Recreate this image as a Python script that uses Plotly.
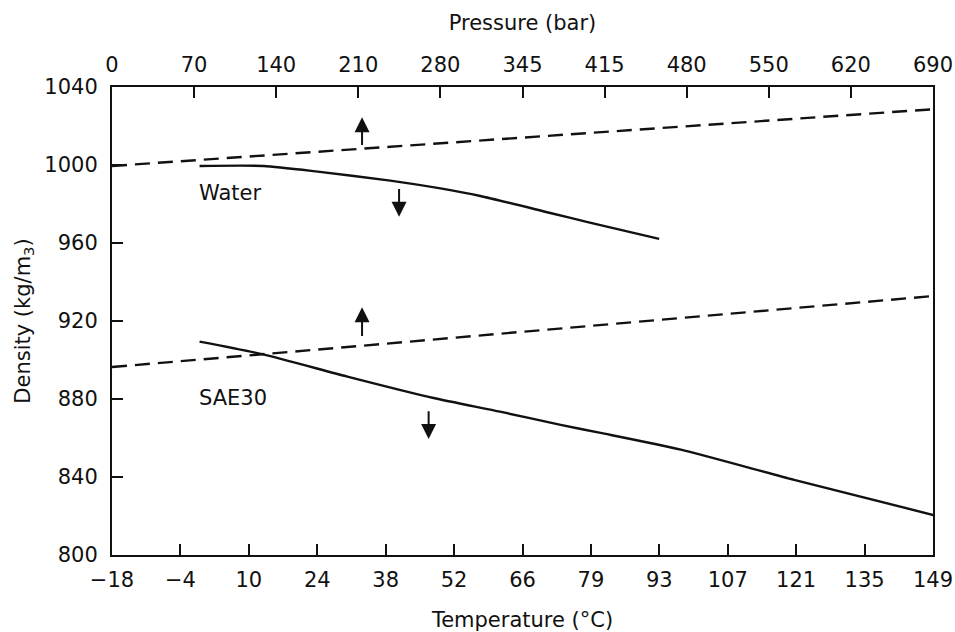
import plotly.graph_objects as go

# ---------------- data ----------------
# bottom axis: temperature (deg C) ; top axis: pressure (bar)
temp_tick_labels = ["\u221218", "\u22124", "10", "24", "38", "52", "66", "79", "93", "107", "121", "135", "149"]
temp_tick_f = [0, 25, 50, 75, 100, 125, 150, 175, 200, 225, 250, 275, 300]  # deg F grid of the original
press_tick_labels = ["0", "70", "140", "210", "280", "345", "415", "480", "550", "620", "690"]
press_tick_psi = [0, 1000, 2000, 3000, 4000, 5000, 6000, 7000, 8000, 9000, 10000]
density_ticks = [800, 840, 880, 920, 960, 1000, 1040]

# density vs temperature (solid)
water_temp = [0, 13, 24, 38.7, 48.9, 57, 71.2, 79, 93.3]
water_dens_t = [999.5, 999.5, 996.6, 992.0, 988.0, 984.1, 975.4, 970.6, 962.1]
oil_temp = [0, 12.7, 30, 47.5, 61, 73.3, 81.4, 97.7, 120.7, 149]
oil_dens_t = [909.4, 903.0, 891.5, 880.5, 873.5, 866.7, 862.6, 854.0, 838.5, 820.5]

# density vs pressure (dashed)
water_press = [0, 210, 305, 689.5]
water_dens_p = [999.5, 1008.4, 1012.4, 1028.6]
oil_press = [0, 210, 689.5]
oil_dens_p = [896.4, 907.3, 932.8]

# ---------------- figure ----------------
def f_to_c(f):
    return (f - 32) * 5 / 9

temp_tickvals = [f_to_c(f) for f in temp_tick_f]
press_tickvals = [p * 0.0689476 for p in press_tick_psi]

FONT = "DejaVu Sans"
FS = 21
black = "#111111"

fig = go.Figure()
line_solid = dict(color=black, width=2.4, shape="spline", smoothing=0.6)
line_dash = dict(color=black, width=2.4, dash="15px,8px")

fig.add_trace(go.Scatter(x=water_temp, y=water_dens_t, mode="lines", line=line_solid,
                         xaxis="x", yaxis="y", showlegend=False, name="Water (T)"))
fig.add_trace(go.Scatter(x=oil_temp, y=oil_dens_t, mode="lines", line=line_solid,
                         xaxis="x", yaxis="y", showlegend=False, name="SAE30 (T)"))
fig.add_trace(go.Scatter(x=water_press, y=water_dens_p, mode="lines", line=line_dash,
                         xaxis="x2", yaxis="y", showlegend=False, name="Water (p)"))
fig.add_trace(go.Scatter(x=oil_press, y=oil_dens_p, mode="lines", line=line_dash,
                         xaxis="x2", yaxis="y", showlegend=False, name="SAE30 (p)"))

axis_common = dict(showgrid=False, zeroline=False, showline=True, linecolor=black, linewidth=2,
                   ticks="inside", ticklen=11, tickwidth=1.5, tickcolor=black, automargin=False,
                   tickfont=dict(family=FONT, size=FS, color=black))

fig.update_layout(
    width=955, height=632, autosize=False,
    margin=dict(l=112, r=22, t=87, b=77),
    paper_bgcolor="white", plot_bgcolor="white",
    font=dict(family=FONT, size=FS, color=black),
    xaxis=dict(**axis_common, range=[f_to_c(0), f_to_c(300)], tickvals=temp_tickvals,
               ticktext=temp_tick_labels, side="bottom", anchor="y", ticklabelstandoff=5,
               title=dict(text="Temperature (\u00b0C)", font=dict(family=FONT, size=FS), standoff=22)),
    xaxis2=dict(**axis_common, range=[0, 10000 * 0.0689476], tickvals=press_tickvals,
                ticktext=press_tick_labels, side="top", overlaying="x", anchor="y", ticklabelstandoff=5,
                title=dict(text="Pressure (bar)", font=dict(family=FONT, size=FS), standoff=16)),
    yaxis=dict(**axis_common, range=[800, 1040], tickvals=density_ticks, mirror=True,
               ticklabelstandoff=8,
               title=dict(text="Density (kg/m<sub>3</sub>)", font=dict(family=FONT, size=FS), standoff=8)),
)

# arrows: up arrows refer to pressure (top axis), down arrows to temperature (bottom axis)
arrow_style = dict(showarrow=True, arrowhead=2, arrowsize=1.5, arrowwidth=2, arrowcolor=black, text="")
fig.add_annotation(x=210, y=1024.5, ax=210, ay=1009.5, xref="x2", yref="y", axref="x2", ayref="y", **arrow_style)
fig.add_annotation(x=210, y=927, ax=210, ay=911.5, xref="x2", yref="y", axref="x2", ayref="y", **arrow_style)
fig.add_annotation(x=40.5, y=973.5, ax=40.5, ay=988.5, xref="x", yref="y", axref="x", ayref="y", **arrow_style)
fig.add_annotation(x=46.5, y=859.5, ax=46.5, ay=874.5, xref="x", yref="y", axref="x", ayref="y", **arrow_style)

fig.add_annotation(x=-0.5, y=985.5, xref="x", yref="y", text="Water", showarrow=False, xanchor="left",
                   font=dict(family=FONT, size=FS, color=black))
fig.add_annotation(x=-0.5, y=880.5, xref="x", yref="y", text="SAE30", showarrow=False, xanchor="left",
                   font=dict(family=FONT, size=FS, color=black))

fig.write_html("out.html")
